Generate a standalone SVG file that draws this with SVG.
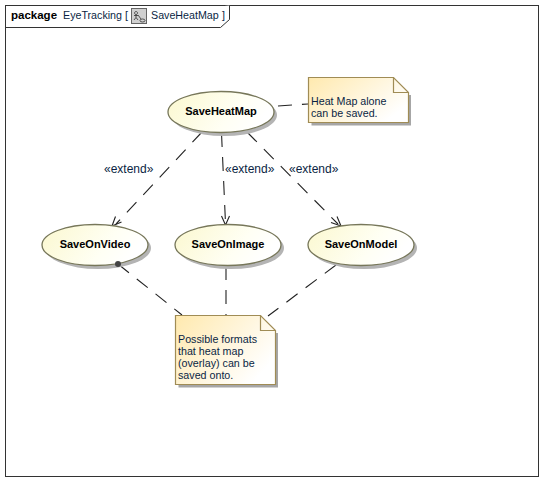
<svg xmlns="http://www.w3.org/2000/svg" width="554" height="491" viewBox="0 0 554 491">
<style>
text{font-family:"Liberation Sans",Arial,sans-serif;font-size:10.700px;fill:#0a1f44}
.b{font-weight:bold;font-size:11px;fill:#000}
.p{font-weight:bold;font-size:11.500px;fill:#000}
.e{font-size:12px}
.uc{fill:url(#ucg);stroke:#77775a;stroke-width:1.3}
.ucs{fill:#b4b4b4}
.n{fill:url(#ng);stroke:#a08c55;stroke-width:1.2}
.ns{fill:#a6a6a6}
.f{fill:none;stroke:#a08c55;stroke-width:1.2}
.c{fill:none;stroke:#222;stroke-width:1.100;stroke-dasharray:14 10}
.a{fill:none;stroke:#222;stroke-width:1.100}
</style>
<defs>
<linearGradient id="ucg" x1="0" y1="0" x2="1" y2="0.3"><stop offset="0" stop-color="#fbf8cf"/><stop offset="0.7" stop-color="#fffff4"/><stop offset="1" stop-color="#ffffff"/></linearGradient>
<linearGradient id="ng" x1="0" y1="0" x2="1" y2="0.6"><stop offset="0" stop-color="#ffe9ae"/><stop offset="1" stop-color="#ffffff"/></linearGradient>
</defs>
<rect width="554" height="491" fill="#fff"/>
<g id="frame">
<rect x="5.500" y="5.500" width="533" height="471" fill="#fff" stroke="#333"/>
<path d="M5.500 27.500H220.500L229.500 19.500V5.500" fill="#fff" stroke="#333"/>
<text x="11" y="18.500" class="p">package</text>
<text x="63" y="18.500">EyeTracking [</text>
<rect x="131.500" y="8.500" width="15" height="15" fill="#d0d0d0" stroke="#666"/>
<path d="M136 11.500a1.500 1.500 0 1 0 .1 0M136 14.500v3M134 15.500h4M136 17.500l-2 2.500M136 17.500l2 2.500M138 15l3 4" fill="none" stroke="#333" stroke-width=".8"/>
<ellipse cx="142.500" cy="20.500" rx="2.500" ry="1.500" fill="none" stroke="#333" stroke-width=".8"/>
<text x="151" y="18.500">SaveHeatMap</text>
<text x="222" y="18.500">]</text>
</g>
<g id="connectors">
<path class="c" d="M202 132L116 224"/>
<path class="a" d="M112 226L115.500 216.500M112 226L121.500 222"/>
<path class="c" d="M221.500 133L225.500 223"/>
<path class="a" d="M225.500 225L221.500 216M225.500 225L229.500 216"/>
<path class="c" d="M247 132L338 224"/>
<path class="a" d="M341 226L331 222.500M341 226L337 216.500"/>
<path class="c" d="M278 106L308 104"/>
<path class="c" d="M118 264L182 315"/>
<path class="c" d="M226 266V315"/>
<path class="c" d="M336 265L268 316"/>
<text x="104" y="173" class="e">«extend»</text>
<text x="225" y="173" class="e">«extend»</text>
<text x="289" y="173" class="e">«extend»</text>
</g>
<g id="SaveHeatMap">
<ellipse class="ucs" cx="224" cy="115" rx="53" ry="21"/>
<ellipse class="uc" cx="221" cy="112" rx="53" ry="20.500"/>
<text x="221" y="115" text-anchor="middle" class="b">SaveHeatMap</text>
</g>
<g id="SaveOnVideo">
<ellipse class="ucs" cx="98" cy="248" rx="53" ry="21"/>
<ellipse class="uc" cx="95" cy="245" rx="53" ry="20.500"/>
<circle cx="118" cy="264" r="3" fill="#444"/>
<text x="95" y="248" text-anchor="middle" class="b">SaveOnVideo</text>
</g>
<g id="SaveOnImage">
<ellipse class="ucs" cx="231" cy="248" rx="53" ry="21"/>
<ellipse class="uc" cx="228" cy="245" rx="53" ry="20.500"/>
<text x="228" y="248" text-anchor="middle" class="b">SaveOnImage</text>
</g>
<g id="SaveOnModel">
<ellipse class="ucs" cx="364" cy="248" rx="53" ry="21"/>
<ellipse class="uc" cx="361" cy="245" rx="53" ry="20.500"/>
<text x="361" y="248" text-anchor="middle" class="b">SaveOnModel</text>
</g>
<g id="note1">
<path class="ns" d="M311.500 125.500V95H411V125.500Z"/>
<path class="n" d="M308.500 77.500H393.500L408.500 92.500V122.500H308.500Z"/>
<path class="f" d="M393.500 77.500V92.500H408.500"/>
<text x="311" y="105">Heat Map alone</text>
<text x="311" y="117">can be saved.</text>
</g>
<g id="note2">
<path class="ns" d="M178.500 387.500V333H278V387.500Z"/>
<path class="n" d="M175.500 315.500H260.500L275.500 330.500V384.500H175.500Z"/>
<path class="f" d="M260.500 315.500V330.500H275.500"/>
<text x="178" y="343">Possible formats</text>
<text x="178" y="355">that heat map</text>
<text x="178" y="367">(overlay) can be</text>
<text x="178" y="379">saved onto.</text>
</g>
</svg>
